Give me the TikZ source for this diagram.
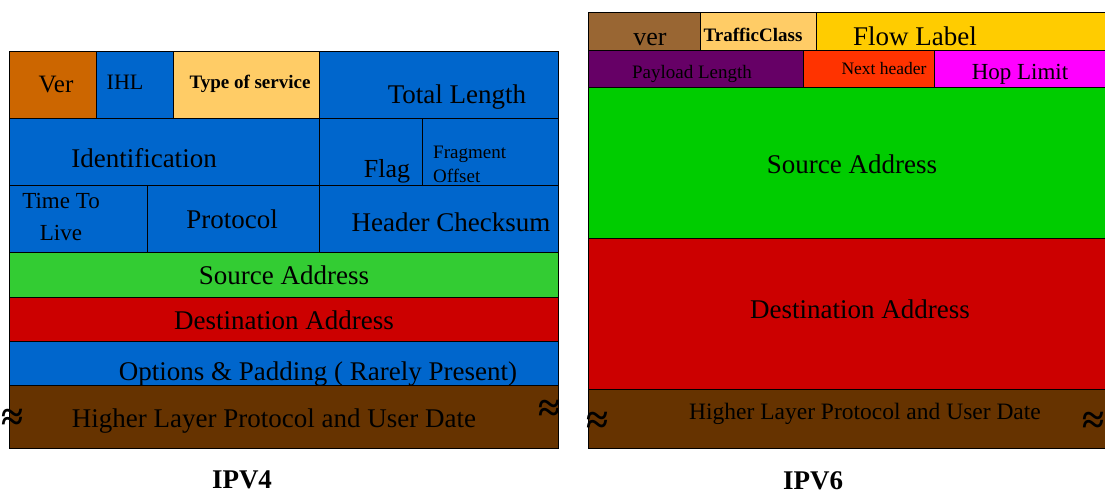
\documentclass[tikz,border=0pt]{standalone}
\usepackage{fontspec}
\setmainfont{Liberation Serif}
\definecolor{verorange}{HTML}{CC6600}
\definecolor{fieldblue}{HTML}{0066CC}
\definecolor{tosorange}{HTML}{FFCC66}
\definecolor{srcgreen}{HTML}{33CC33}
\definecolor{dstred}{HTML}{CC0000}
\definecolor{databrown}{HTML}{663300}
\definecolor{verbrown}{HTML}{996633}
\definecolor{flowyellow}{HTML}{FFCC00}
\definecolor{paypurple}{HTML}{660066}
\definecolor{nextred}{HTML}{FF3300}
\definecolor{hopmagenta}{HTML}{FF00FF}
\definecolor{srcgreensix}{HTML}{00CC00}
\newcommand{\fsz}[1]{\fontsize{#1}{#1}\selectfont}
\begin{document}
\begin{tikzpicture}[x=1pt, y=-1pt,
        field/.style={draw=black, line width=0.9pt},
        txt/.style={anchor=base, inner sep=0pt},
        brk/.style={inner sep=0pt, font=\fsz{40}\bfseries}]
    \useasboundingbox (0,0) rectangle (1105,493);

    % IPv4 header
    \filldraw[field, fill=verorange] (9,51) rectangle (96,118);
    \filldraw[field, fill=fieldblue] (96,51) rectangle (173,118);
    \filldraw[field, fill=tosorange] (173,51) rectangle (319,118);
    \filldraw[field, fill=fieldblue] (319,51) rectangle (558,118);
    \filldraw[field, fill=fieldblue] (9,118) rectangle (319,185);
    \filldraw[field, fill=fieldblue] (319,118) rectangle (422,185);
    \filldraw[field, fill=fieldblue] (422,118) rectangle (558,185);
    \filldraw[field, fill=fieldblue] (9,185) rectangle (147,252);
    \filldraw[field, fill=fieldblue] (147,185) rectangle (319,252);
    \filldraw[field, fill=fieldblue] (319,185) rectangle (558,252);
    \filldraw[field, fill=srcgreen] (9,252) rectangle (558,297);
    \filldraw[field, fill=dstred] (9,297) rectangle (558,341);
    \filldraw[field, fill=fieldblue] (9,341) rectangle (558,385);
    \filldraw[field, fill=databrown] (9,385) rectangle (558,448);

    \node (ver4) [txt, font=\fsz{25}] at (56,92) {Ver};
    \node (ihl) [txt, font=\fsz{22}] at (125,89) {IHL};
    \node (tos) [txt, font=\fsz{19}\bfseries] at (250,88) {Type of service};
    \node (totlen) [txt, font=\fsz{27}] at (457,103) {Total Length};
    \node (ident) [txt, font=\fsz{27}] at (144,167) {Identification};
    \node (flag) [txt, font=\fsz{26}] at (387,177) {Flag};
    \node (fragoff) [anchor=west, inner sep=0pt, align=left, font=\fontsize{19}{24}\selectfont] at (433,164) {Fragment\\Offset};
    \node (ttl) [inner sep=0pt, align=center, font=\fontsize{23}{32}\selectfont] at (61,217) {Time To\\Live};
    \node (proto) [txt, font=\fsz{27}] at (232,228) {Protocol};
    \node (chksum) [txt, font=\fsz{27}] at (451,231) {Header Checksum};
    \node (src4) [txt, font=\fsz{27}] at (284,284) {Source Address};
    \node (dst4) [txt, font=\fsz{27}] at (284,329) {Destination Address};
    \node (opts) [txt, font=\fsz{27}] at (318,380) {Options \& Padding ( Rarely Present)};
    \node (data4) [txt, font=\fsz{27}] at (274,427) {Higher Layer Protocol and User Date};
    \node (brkl4) [brk] at (12,420) {≈};
    \node (brkr4) [brk] at (549,411) {≈};
    \node (cap4) [txt, font=\fsz{27}\bfseries] at (242,488) {IPV4};

    % IPv6 header
    \filldraw[field, fill=verbrown] (588,12) rectangle (700,50);
    \filldraw[field, fill=tosorange] (700,12) rectangle (816,50);
    \filldraw[field, fill=flowyellow] (816,12) rectangle (1110,50);
    \filldraw[field, fill=paypurple] (588,50) rectangle (803,87);
    \filldraw[field, fill=nextred] (803,50) rectangle (934,87);
    \filldraw[field, fill=hopmagenta] (934,50) rectangle (1110,87);
    \filldraw[field, fill=srcgreensix] (588,87) rectangle (1110,238);
    \filldraw[field, fill=dstred] (588,238) rectangle (1110,389);
    \filldraw[field, fill=databrown] (588,389) rectangle (1110,448);

    \node (ver6) [txt, font=\fsz{26}] at (650,45) {ver};
    \node (tclass) [txt, font=\fsz{19}\bfseries] at (753,41) {TrafficClass};
    \node (flow) [txt, font=\fsz{27}] at (915,45) {Flow Label};
    \node (paylen) [txt, font=\fsz{19}] at (692,78) {Payload Length};
    \node (nexthdr) [txt, font=\fsz{17.5}] at (884,74) {Next header};
    \node (hoplim) [txt, font=\fsz{23}] at (1020,79) {Hop Limit};
    \node (src6) [txt, font=\fsz{27}] at (852,173) {Source Address};
    \node (dst6) [txt, font=\fsz{27}] at (860,318) {Destination Address};
    \node (data6) [txt, font=\fsz{23.5}] at (865,419) {Higher Layer Protocol and User Date};
    \node (brkl6) [brk] at (597,423) {≈};
    \node (brkr6) [brk] at (1093,423) {≈};
    \node (cap6) [txt, font=\fsz{27}\bfseries] at (813,489) {IPV6};
\end{tikzpicture}
\end{document}
